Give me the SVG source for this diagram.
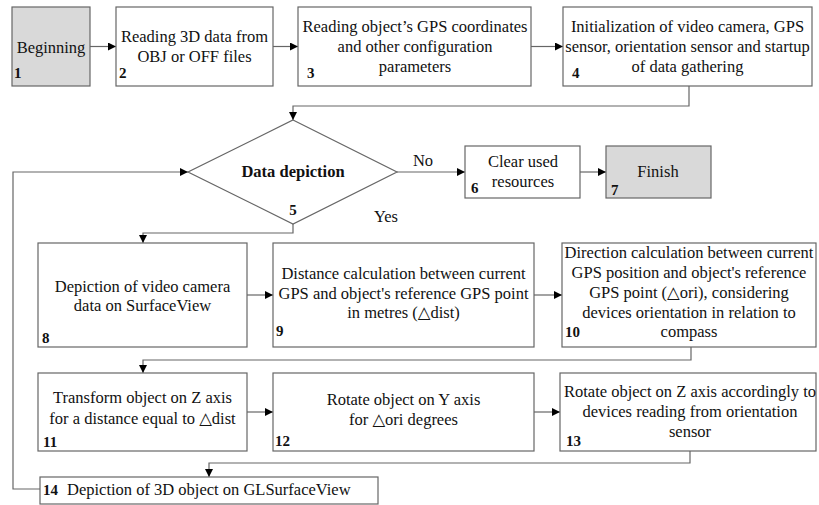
<svg xmlns="http://www.w3.org/2000/svg" width="819" height="505" viewBox="0 0 819 505">
<defs>
<marker id="arr" viewBox="0 0 10 10" refX="10" refY="5" markerWidth="9" markerHeight="8" markerUnits="userSpaceOnUse" orient="auto">
<path d="M0,0 L10,5 L0,10 z" fill="#000"/>
</marker>
<style>
.box{fill:#fff;stroke:#666;stroke-width:1.2}
.gray{fill:#d9d9d9;stroke:#666;stroke-width:1.2}
text{font-family:'Liberation Serif','DejaVu Serif',serif;fill:#111}
.t{font-size:16.5px;text-anchor:middle}
.n{font-size:15px;font-weight:bold}
.b{font-size:16.5px;font-weight:bold;text-anchor:middle}
.c{fill:none;stroke:#666;stroke-width:1.2}
</style>
</defs>
<rect width="819" height="505" fill="#fff"/>

<g id="connectors">
<path class="c" d="M90,46.5 H116" marker-end="url(#arr)"/>
<path class="c" d="M273,46.5 H298" marker-end="url(#arr)"/>
<path class="c" d="M531,46.5 H563" marker-end="url(#arr)"/>
<path class="c" d="M689,86 V106 H293 V120" marker-end="url(#arr)"/>
<path class="c" d="M397,172 H465" marker-end="url(#arr)"/>
<path class="c" d="M580,172 H606" marker-end="url(#arr)"/>
<path class="c" d="M293,224 V233 H143 V243" marker-end="url(#arr)"/>
<path class="c" d="M247,295 H273" marker-end="url(#arr)"/>
<path class="c" d="M534,295 H562" marker-end="url(#arr)"/>
<path class="c" d="M691,347 V360 H143 V373" marker-end="url(#arr)"/>
<path class="c" d="M247,412 H273" marker-end="url(#arr)"/>
<path class="c" d="M534,412 H560" marker-end="url(#arr)"/>
<path class="c" d="M690,451 V463 H209 V477" marker-end="url(#arr)"/>
<path class="c" d="M40,489 H13 V172 H188" marker-end="url(#arr)"/>
<text class="t" x="423" y="166">No</text>
<text class="t" x="386" y="222">Yes</text>
</g>

<g id="n1">
<rect class="gray" x="12" y="7" width="78" height="79"/>
<text class="t" x="51" y="53">Beginning</text>
<text class="n" x="14" y="78">1</text>
</g>

<g id="n2">
<rect class="box" x="116" y="7" width="157" height="79"/>
<text class="t" x="194.5" y="42">Reading 3D data from</text>
<text class="t" x="194.5" y="62">OBJ or OFF files</text>
<text class="n" x="119" y="78">2</text>
</g>

<g id="n3">
<rect class="box" x="298" y="7" width="233" height="79"/>
<text class="t" x="415" y="32">Reading object’s GPS coordinates</text>
<text class="t" x="415" y="52">and other configuration</text>
<text class="t" x="415" y="72">parameters</text>
<text class="n" x="307" y="78">3</text>
</g>

<g id="n4">
<rect class="box" x="563" y="7" width="249" height="79"/>
<text class="t" x="687.5" y="32">Initialization of video camera, GPS</text>
<text class="t" x="687.5" y="52">sensor, orientation sensor and startup</text>
<text class="t" x="687.5" y="72">of data gathering</text>
<text class="n" x="572" y="78">4</text>
</g>

<g id="n5">
<polygon points="293,120 397,172 293,224 188,172" fill="#fff" stroke="#666" stroke-width="1.2"/>
<text class="b" x="293" y="177">Data depiction</text>
<text class="b" x="293" y="215" style="font-size:15px">5</text>
</g>

<g id="n6">
<rect class="box" x="465" y="146" width="115" height="52"/>
<text class="t" x="523" y="167">Clear used</text>
<text class="t" x="523" y="187">resources</text>
<text class="n" x="471" y="193">6</text>
</g>

<g id="n7">
<rect class="gray" x="606" y="146" width="105" height="52"/>
<text class="t" x="658" y="177">Finish</text>
<text class="n" x="611" y="195">7</text>
</g>

<g id="n8">
<rect class="box" x="38" y="243" width="209" height="104"/>
<text class="t" x="142.5" y="292">Depiction of video camera</text>
<text class="t" x="142.5" y="311">data on SurfaceView</text>
<text class="n" x="42" y="343">8</text>
</g>

<g id="n9">
<rect class="box" x="273" y="243" width="261" height="104"/>
<text class="t" x="403.5" y="279">Distance calculation between current</text>
<text class="t" x="403.5" y="299">GPS and object's reference GPS point</text>
<text class="t" x="403.5" y="318">in metres (△dist)</text>
<text class="n" x="276" y="336">9</text>
</g>

<g id="n10">
<rect class="box" x="562" y="243" width="254" height="104"/>
<text class="t" x="689" y="258">Direction calculation between current</text>
<text class="t" x="689" y="278">GPS position and object's reference</text>
<text class="t" x="689" y="298">GPS point (△ori), considering</text>
<text class="t" x="689" y="318">devices orientation in relation to</text>
<text class="t" x="689" y="337">compass</text>
<text class="n" x="565" y="337">10</text>
</g>

<g id="n11">
<rect class="box" x="38" y="373" width="209" height="78"/>
<text class="t" x="142.5" y="403">Transform object on Z axis</text>
<text class="t" x="142.5" y="424">for a distance equal to △dist</text>
<text class="n" x="43" y="447">11</text>
</g>

<g id="n12">
<rect class="box" x="273" y="373" width="261" height="78"/>
<text class="t" x="403.5" y="405">Rotate object on Y axis</text>
<text class="t" x="403.5" y="425">for △ori degrees</text>
<text class="n" x="275" y="446">12</text>
</g>

<g id="n13">
<rect class="box" x="560" y="373" width="256" height="78"/>
<text class="t" x="690" y="397">Rotate object on Z axis accordingly to</text>
<text class="t" x="690" y="417">devices reading from orientation</text>
<text class="t" x="690" y="437">sensor</text>
<text class="n" x="566" y="446">13</text>
</g>

<g id="n14">
<rect class="box" x="40" y="477" width="338" height="27"/>
<text class="n" x="43" y="495">14</text>
<text class="t" x="67" y="495" style="text-anchor:start">Depiction of 3D object on GLSurfaceView</text>
</g>
</svg>
